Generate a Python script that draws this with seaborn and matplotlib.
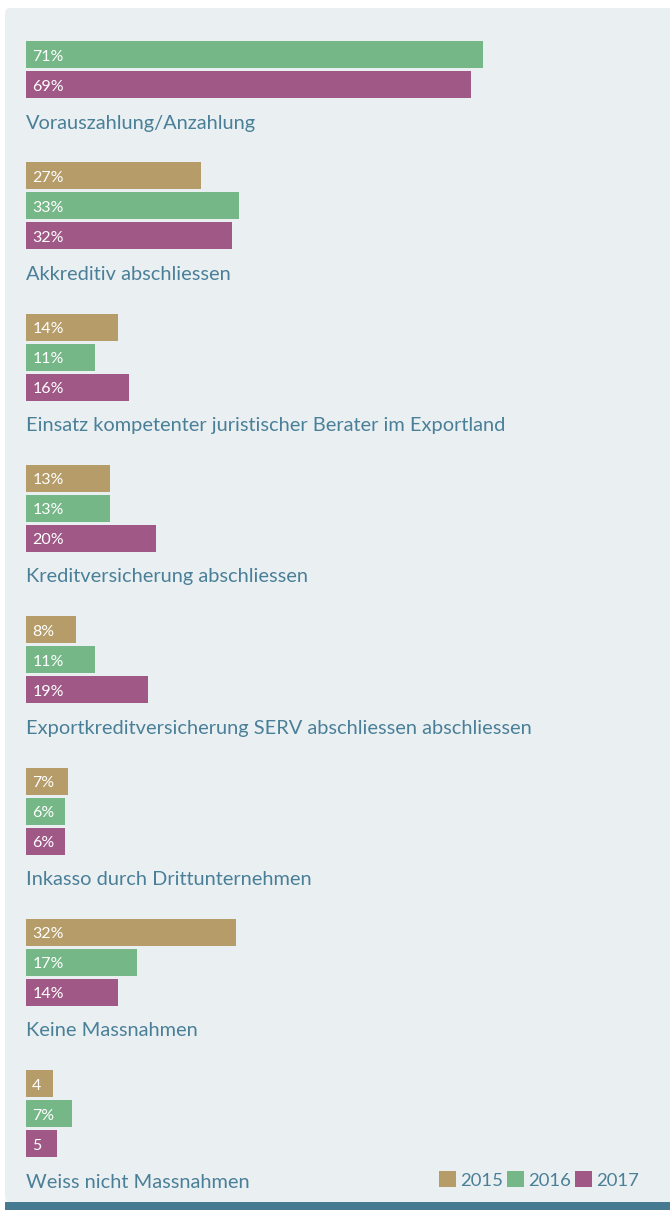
import numpy as np
import pandas as pd
import matplotlib.pyplot as plt
from matplotlib.patches import Patch, FancyBboxPatch, Rectangle
import seaborn as sns

sns.set_theme(style="white")
plt.rcParams['font.family'] = ['Lato', 'DejaVu Sans']

categories = [
    "Vorauszahlung/Anzahlung",
    "Akkreditiv abschliessen",
    "Einsatz kompetenter juristischer Berater im Exportland",
    "Kreditversicherung abschliessen",
    "Exportkreditversicherung SERV abschliessen abschliessen",
    "Inkasso durch Drittunternehmen",
    "Keine Massnahmen",
    "Weiss nicht Massnahmen",
]
years = ["2015", "2016", "2017"]
values_2015 = [np.nan, 27.1, 14.2, 13.0, 7.8, 6.5, 32.6, 4.2]
values_2016 = [70.9, 33.0, 10.7, 13.0, 10.7, 6.0, 17.2, 7.1]
values_2017 = [69.0, 31.9, 16.0, 20.2, 18.9, 6.0, 14.2, 4.8]
labels_2015 = ["", "27%", "14%", "13%", "8%", "7%", "32%", "4"]
labels_2016 = ["71%", "33%", "11%", "13%", "11%", "6%", "17%", "7%"]
labels_2017 = ["69%", "32%", "16%", "20%", "19%", "6%", "14%", "5"]

colors = {"2015": "#b59c68", "2016": "#76b787", "2017": "#a05887"}
text_color = "#4a7f98"
bg_color = "#eaf0f2"

W, H = 670, 1210
fig = plt.figure(figsize=(W / 100, H / 100), dpi=100)
fig.patch.set_facecolor("white")

# panel background and bottom strip (pixel -> figure coords)
fig.patches.append(FancyBboxPatch((5 / W, 8 / H), 700 / W, (1202 - 8) / H,
                                  boxstyle="round,pad=0,rounding_size=0.006",
                                  transform=fig.transFigure, facecolor=bg_color,
                                  edgecolor="none", zorder=-10))
fig.patches.append(Rectangle((5 / W, 0), 1, 8 / H, transform=fig.transFigure,
                             facecolor="#467a91", edgecolor="none", zorder=-9))

group_step = 151.3
px_per_pct = 6.45
xmax = 99

for i, cat in enumerate(categories):
    y0 = 11 + group_step * i  # top of first bar slot, px from top
    ax = fig.add_axes([26 / W, 1 - (y0 - 1.5 + 90) / H, xmax * px_per_pct / W, 90 / H])
    ax.set_zorder(2)
    df = pd.DataFrame({
        "year": years,
        "value": [values_2015[i], values_2016[i], values_2017[i]],
        "label": [labels_2015[i], labels_2016[i], labels_2017[i]],
    }).dropna()
    sns.barplot(data=df, x="value", y="year", hue="year", order=years,
                hue_order=years, palette=colors, width=0.9, legend=False,
                saturation=1, linewidth=0, ax=ax)
    for _, row in df.iterrows():
        ax.annotate(row["label"], xy=(0, years.index(row["year"])),
                    xytext=(4.5, -1.5), textcoords="offset points",
                    ha="left", va="center", color="white", fontsize=11.5)
    ax.set_xlim(0, xmax)
    ax.set_ylim(2.5, -0.5)
    ax.set_axis_off()
    fig.text(26 / W, 1 - (y0 + 112) / H, cat, ha="left", va="center",
             color=text_color, fontsize=14.4)

handles = [Patch(facecolor=colors[y], edgecolor="none") for y in years]
fig.legend(handles, years, ncol=3, loc="center right",
           bbox_to_anchor=(639 / W, 1 - 1180 / H), frameon=False,
           fontsize=13.3, labelcolor=text_color, handlelength=0.9,
           handleheight=0.9, handletextpad=0.25, columnspacing=0.2,
           borderaxespad=0, borderpad=0)

fig.savefig("out.png", dpi=100, facecolor=fig.get_facecolor())
